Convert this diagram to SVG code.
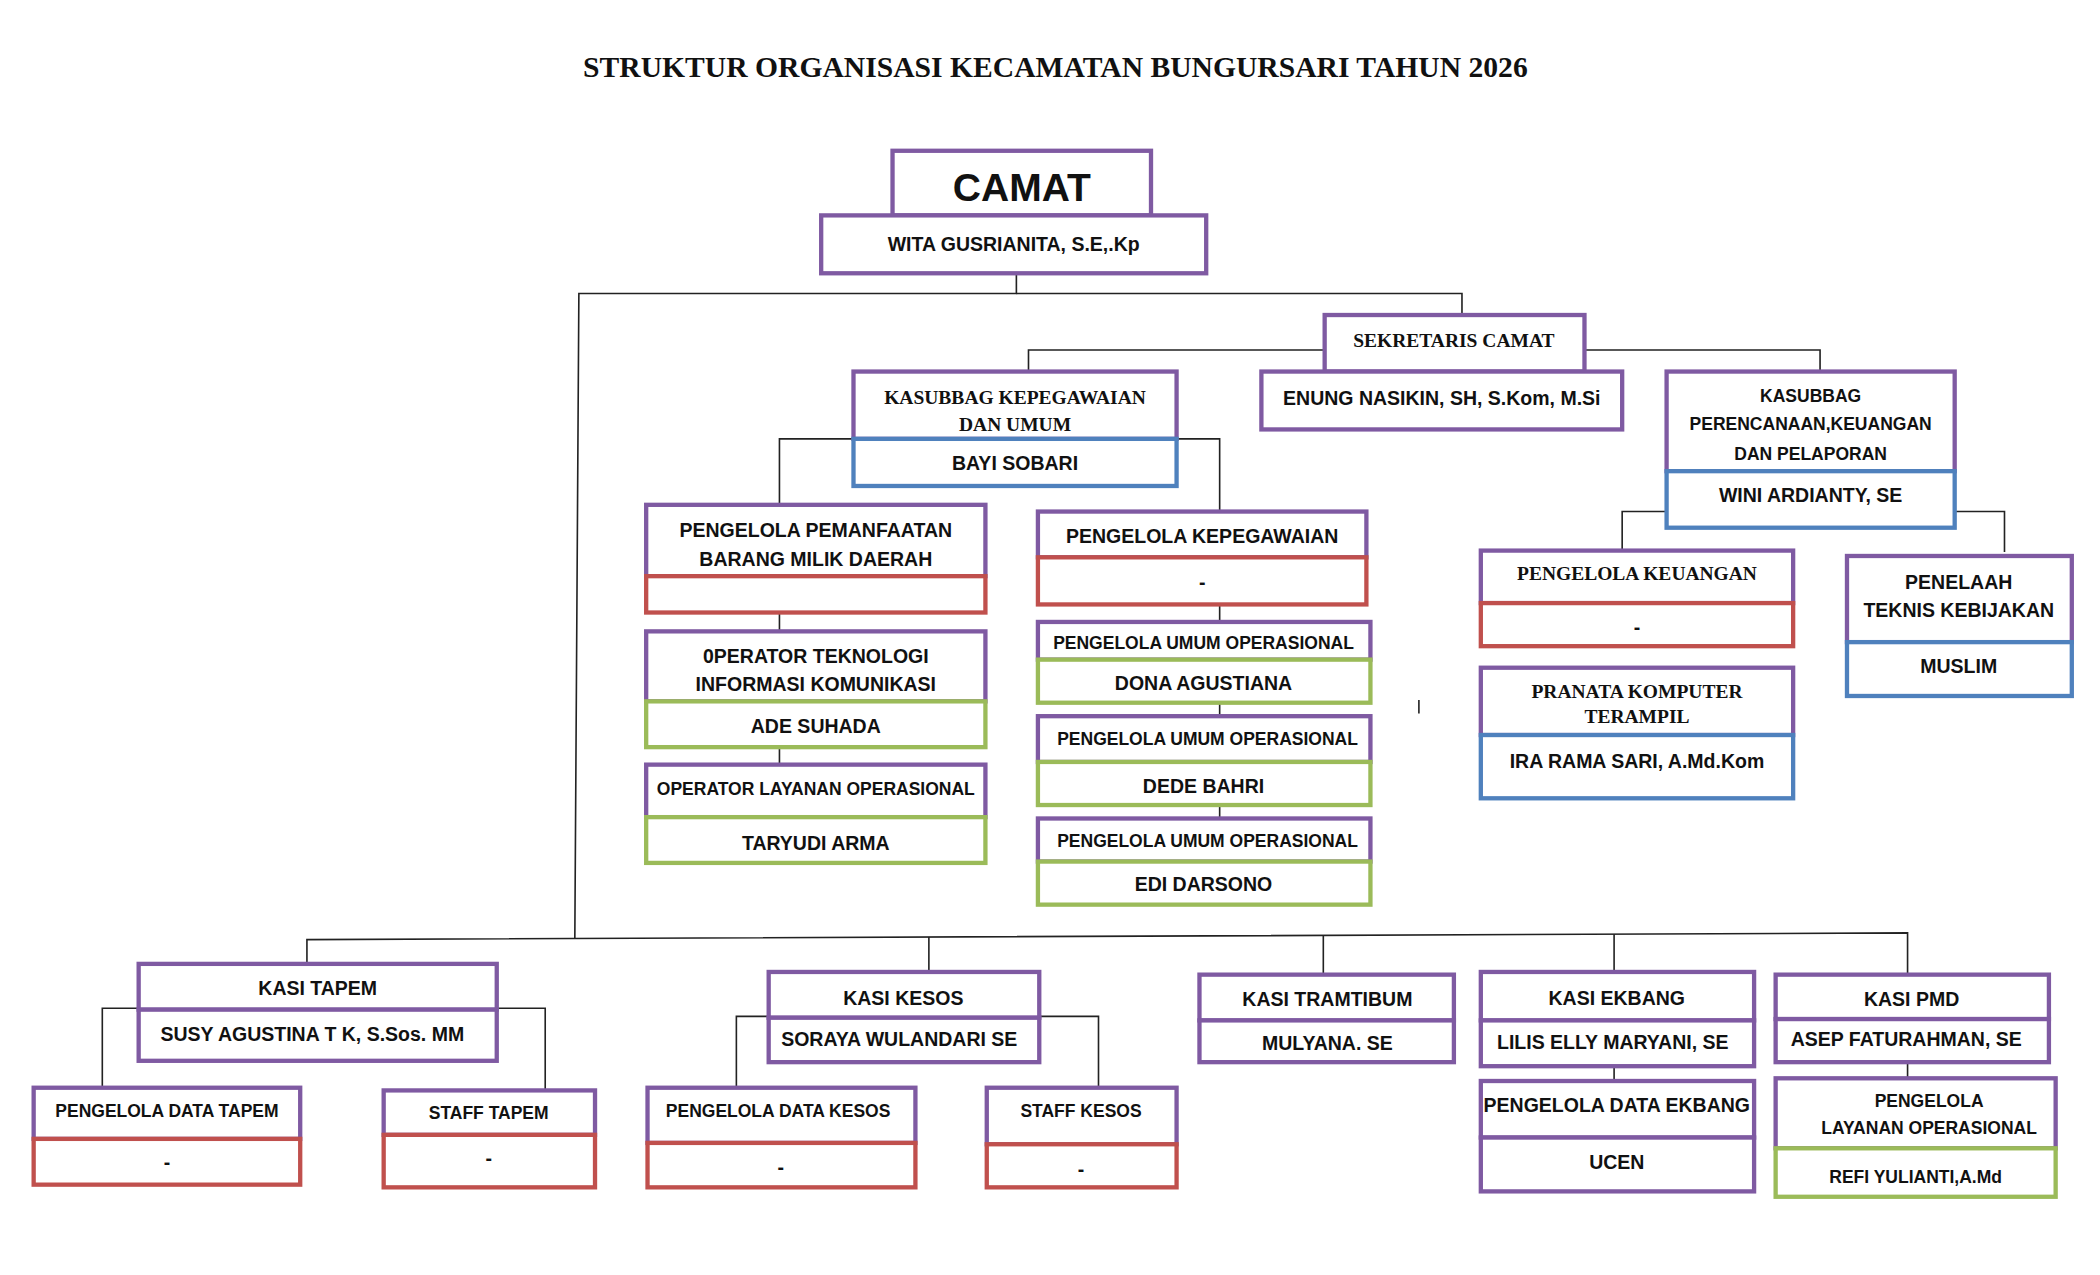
<svg xmlns="http://www.w3.org/2000/svg" width="2100" height="1275" viewBox="0 0 2100 1275">
<style>
rect{fill:#fff;stroke-width:3.2}
.p{stroke:#7f5aa2}.r{stroke:#c0504d}.b{stroke:#4f81bd}.g{stroke:#9bbb59}
text{font-family:"Liberation Sans",Arial,sans-serif;font-weight:bold;font-size:14.5px;fill:#111;text-anchor:middle;dominant-baseline:central}
.s{font-family:"Liberation Serif","Times New Roman",serif}
.sm{font-size:13px}
#conn line,#conn polyline{stroke:#222;stroke-width:1.2;fill:none}
</style>
<rect x="0" y="0" width="2100" height="1275" style="fill:#fff;stroke:none"/>
<g transform="scale(1.3462)">
<text x="784" y="50" class="s" style="font-size:22px">STRUKTUR ORGANISASI KECAMATAN BUNGURSARI TAHUN 2026</text>
<g id="conn">
<polyline points="755,203 755,218 430,218 427,697"/>
<polyline points="755,218 1086,218 1086,234"/>
<polyline points="984,260 764,260 764,276"/>
<polyline points="1177,260 1352,260 1352,276"/>
<polyline points="579,375 579,326 906,326 906,380"/>
<line x1="579" y1="455" x2="579" y2="469"/>
<line x1="579" y1="555" x2="579" y2="568"/>
<line x1="906" y1="449" x2="906" y2="462"/>
<line x1="906" y1="522" x2="906" y2="532"/>
<line x1="906" y1="598" x2="906" y2="608"/>
<polyline points="1205,409 1205,380 1238,380"/>
<polyline points="1452,380 1489,380 1489,410"/>
<line x1="1054" y1="520" x2="1054" y2="530"/>
<polyline points="228,716 228,698 1417,693 1417,724"/>
<line x1="690" y1="696" x2="690" y2="722"/>
<line x1="983" y1="695" x2="983" y2="724"/>
<line x1="1199" y1="694" x2="1199" y2="722"/>
<polyline points="76,808 76,749 103,749"/>
<polyline points="369,749 405,749 405,810"/>
<polyline points="547,808 547,755 571,755"/>
<polyline points="772,755 816,755 816,808"/>
<line x1="1199" y1="792" x2="1199" y2="803"/>
<line x1="1417" y1="789" x2="1417" y2="801"/>
</g>
<g id="camat"><rect class="p" x="663" y="112" width="192" height="48"/><text x="759" y="139" style="font-size:29px">CAMAT</text>
<rect class="p" x="610" y="160" width="286" height="43"/><text x="753" y="181">WITA GUSRIANITA, S.E,.Kp</text></g>
<g id="sekcam"><rect class="p" x="984" y="234" width="193" height="42"/><text x="1080" y="253" class="s">SEKRETARIS CAMAT</text>
<rect class="p" x="937" y="276" width="268" height="43"/><text x="1071" y="296">ENUNG NASIKIN, SH, S.Kom, M.Si</text></g>
<g id="kasubbag-kep"><rect class="p" x="634" y="276" width="240" height="50"/><text x="754" y="295" class="s">KASUBBAG KEPEGAWAIAN</text><text x="754" y="315" class="s">DAN UMUM</text>
<rect class="b" x="634" y="326" width="240" height="35"/><text x="754" y="344">BAYI SOBARI</text></g>
<g id="pbmd"><rect class="p" x="480" y="375" width="252" height="53"/><text x="606" y="394">PENGELOLA PEMANFAATAN</text><text x="606" y="415">BARANG MILIK DAERAH</text>
<rect class="r" x="480" y="428" width="252" height="27"/></g>
<g id="otik"><rect class="p" x="480" y="469" width="252" height="52"/><text x="606" y="487">0PERATOR TEKNOLOGI</text><text x="606" y="508">INFORMASI KOMUNIKASI</text>
<rect class="g" x="480" y="521" width="252" height="34"/><text x="606" y="539">ADE SUHADA</text></g>
<g id="olo"><rect class="p" x="480" y="568" width="252" height="39"/><text x="606" y="586" class="sm">OPERATOR LAYANAN OPERASIONAL</text>
<rect class="g" x="480" y="607" width="252" height="34"/><text x="606" y="626">TARYUDI ARMA</text></g>
<g id="pkep"><rect class="p" x="771" y="380" width="244" height="34"/><text x="893" y="398">PENGELOLA KEPEGAWAIAN</text>
<rect class="r" x="771" y="414" width="244" height="35"/><text x="893" y="432">-</text></g>
<g id="puo1"><rect class="p" x="771" y="462" width="247" height="28"/><text x="894" y="478" class="sm">PENGELOLA UMUM OPERASIONAL</text>
<rect class="g" x="771" y="490" width="247" height="32"/><text x="894" y="507">DONA AGUSTIANA</text></g>
<g id="puo2"><rect class="p" x="771" y="532" width="247" height="34"/><text x="897" y="549" class="sm">PENGELOLA UMUM OPERASIONAL</text>
<rect class="g" x="771" y="566" width="247" height="32"/><text x="894" y="584">DEDE BAHRI</text></g>
<g id="puo3"><rect class="p" x="771" y="608" width="247" height="32"/><text x="897" y="625" class="sm">PENGELOLA UMUM OPERASIONAL</text>
<rect class="g" x="771" y="640" width="247" height="32"/><text x="894" y="657">EDI DARSONO</text></g>
<g id="kasubbag-ren"><rect class="p" x="1238" y="276" width="214" height="74"/><text x="1345" y="294" class="sm">KASUBBAG</text><text x="1345" y="315" class="sm">PERENCANAAN,KEUANGAN</text><text x="1345" y="337" class="sm">DAN PELAPORAN</text>
<rect class="b" x="1238" y="350" width="214" height="42"/><text x="1345" y="368">WINI ARDIANTY, SE</text></g>
<g id="pkeu"><rect class="p" x="1100" y="409" width="232" height="39"/><text x="1216" y="426" class="s">PENGELOLA  KEUANGAN</text>
<rect class="r" x="1100" y="448" width="232" height="32"/><text x="1216" y="466">-</text></g>
<g id="pranata"><rect class="p" x="1100" y="496" width="232" height="50"/><text x="1216" y="514" class="s">PRANATA KOMPUTER</text><text x="1216" y="532" class="s">TERAMPIL</text>
<rect class="b" x="1100" y="546" width="232" height="47"/><text x="1216" y="565">IRA RAMA SARI, A.Md.Kom</text></g>
<g id="penelaah"><rect class="p" x="1372" y="413" width="167" height="64"/><text x="1455" y="432">PENELAAH</text><text x="1455" y="453">TEKNIS KEBIJAKAN</text>
<rect class="b" x="1372" y="477" width="167" height="40"/><text x="1455" y="495">MUSLIM</text></g>
<g id="tapem"><rect class="p" x="103" y="716" width="266" height="34"/><text x="236" y="734">KASI  TAPEM</text>
<rect class="p" x="103" y="750" width="266" height="38"/><text x="232" y="768">SUSY  AGUSTINA  T K, S.Sos. MM</text></g>
<g id="pdtapem"><rect class="p" x="25" y="808" width="198" height="38"/><text x="124" y="825" class="sm">PENGELOLA DATA TAPEM</text>
<rect class="r" x="25" y="846" width="198" height="34"/><text x="124" y="863">-</text></g>
<g id="stapem"><rect class="p" x="285" y="810" width="157" height="33"/><text x="363" y="827" class="sm">STAFF TAPEM</text>
<rect class="r" x="285" y="843" width="157" height="39"/><text x="363" y="860">-</text></g>
<g id="kesos"><rect class="p" x="571" y="722" width="201" height="34"/><text x="671" y="741">KASI  KESOS</text>
<rect class="p" x="571" y="756" width="201" height="33"/><text x="668" y="772">SORAYA WULANDARI SE</text></g>
<g id="pdkesos"><rect class="p" x="481" y="808" width="199" height="41"/><text x="578" y="825" class="sm">PENGELOLA DATA KESOS</text>
<rect class="r" x="481" y="849" width="199" height="33"/><text x="580" y="867">-</text></g>
<g id="skesos"><rect class="p" x="733" y="808" width="141" height="42"/><text x="803" y="825" class="sm">STAFF KESOS</text>
<rect class="r" x="733" y="850" width="141" height="32"/><text x="803" y="868">-</text></g>
<g id="tramtibum"><rect class="p" x="891" y="724" width="189" height="34"/><text x="986" y="742">KASI TRAMTIBUM</text>
<rect class="p" x="891" y="758" width="189" height="31"/><text x="986" y="775">MULYANA. SE</text></g>
<g id="ekbang"><rect class="p" x="1100" y="722" width="203" height="36"/><text x="1201" y="741">KASI  EKBANG</text>
<rect class="p" x="1100" y="758" width="203" height="34"/><text x="1198" y="774">LILIS ELLY MARYANI, SE</text></g>
<g id="pdekbang"><rect class="p" x="1100" y="803" width="203" height="42"/><text x="1201" y="821">PENGELOLA DATA EKBANG</text>
<rect class="p" x="1100" y="845" width="203" height="40"/><text x="1201" y="863">UCEN</text></g>
<g id="pmd"><rect class="p" x="1319" y="724" width="203" height="33"/><text x="1420" y="742">KASI  PMD</text>
<rect class="p" x="1319" y="757" width="203" height="32"/><text x="1416" y="772">ASEP FATURAHMAN, SE</text></g>
<g id="plo"><rect class="p" x="1319" y="801" width="208" height="52"/><text x="1433" y="818" class="sm">PENGELOLA</text><text x="1433" y="838" class="sm">LAYANAN OPERASIONAL</text>
<rect class="g" x="1319" y="853" width="208" height="36"/><text x="1423" y="874" class="sm">REFI YULIANTI,A.Md</text></g>
</g>
</svg>
